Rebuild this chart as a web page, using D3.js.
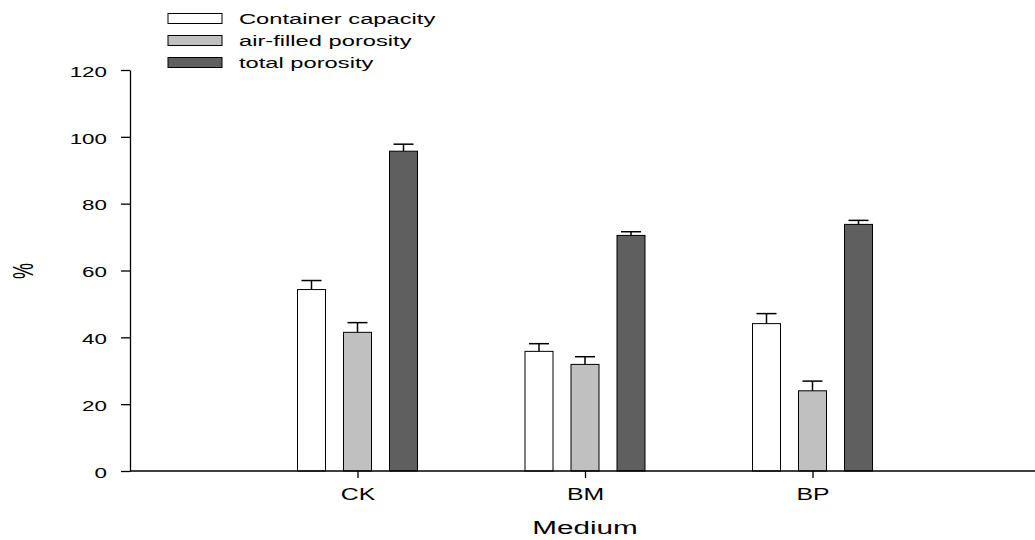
<!DOCTYPE html>
<html><head><meta charset="utf-8">
<script src="https://cdn.jsdelivr.net/npm/d3@7"></script>
<style>body{margin:0;background:#fff}svg{display:block;font-family:"Liberation Sans",Arial,sans-serif}</style>
</head><body>
<script>
const categories = ["CK", "BM", "BP"];
const seriesNames = ["Container capacity", "air-filled porosity", "total porosity"];
const seriesColors = ["#ffffff", "#c0c0c0", "#5f5f5f"];
const containerCapacity = [54.3, 35.8, 44.1];
const containerCapacityErr = [2.7, 2.3, 3.0];
const airFilled = [41.5, 31.9, 24.0];
const airFilledErr = [2.9, 2.3, 2.9];
const totalPorosity = [95.7, 70.5, 73.8];
const totalPorosityErr = [2.1, 1.1, 1.2];
const yTicks = [0, 20, 40, 60, 80, 100, 120];

const values = [containerCapacity, airFilled, totalPorosity];
const errs = [containerCapacityErr, airFilledErr, totalPorosityErr];

const W = 1035, H = 540;
const SX = 1.6; // horizontal stretch of text in the reference
const svg = d3.select("body").append("svg").attr("width", W).attr("height", H);

const x0 = d3.scalePoint().domain(categories).range([130, 1040]).padding(1);
const y = d3.scaleLinear().domain([0, 120]).range([471, 70]);
const x1 = d3.scalePoint().domain(d3.range(3)).range([-46, 46]);
const bw = 28;

const data = [];
categories.forEach((c, i) => {
  for (let s = 0; s < 3; s++) data.push({c, s, v: values[s][i], e: errs[s][i]});
});

const g = svg.append("g");
g.selectAll("line.stem").data(data).join("line")
  .attr("x1", d => x0(d.c) + x1(d.s)).attr("x2", d => x0(d.c) + x1(d.s))
  .attr("y1", d => y(d.v)).attr("y2", d => y(d.v + d.e))
  .attr("stroke", "#000").attr("stroke-width", 1.5);
g.selectAll("line.cap").data(data).join("line")
  .attr("x1", d => x0(d.c) + x1(d.s) - 10).attr("x2", d => x0(d.c) + x1(d.s) + 10)
  .attr("y1", d => y(d.v + d.e)).attr("y2", d => y(d.v + d.e))
  .attr("stroke", "#000").attr("stroke-width", 1.5);
g.selectAll("rect.bar").data(data).join("rect")
  .attr("x", d => x0(d.c) + x1(d.s) - bw / 2)
  .attr("y", d => y(d.v))
  .attr("width", bw)
  .attr("height", d => y(0) - y(d.v))
  .attr("fill", d => seriesColors[d.s])
  .attr("stroke", "#000").attr("stroke-width", 1);

// y axis
const yAxis = d3.axisLeft(y).tickValues(yTicks).tickSize(9).tickPadding(5).tickSizeOuter(0);
const ya = svg.append("g").attr("transform", "translate(130,0)").call(yAxis);
ya.select(".domain").attr("stroke", "#000").attr("stroke-width", 1.3);
ya.selectAll(".tick line").attr("stroke", "#000").attr("stroke-width", 1.3);
ya.selectAll(".tick text")
  .attr("x", 0).attr("dy", "0.45em")
  .attr("transform", `translate(-23,0) scale(${SX},1)`)
  .attr("font-size", 14).attr("fill", "#000")
  .attr("font-family", "Liberation Sans, Arial, sans-serif");

// x axis
const xAxis = d3.axisBottom(x0).tickSize(7).tickPadding(10).tickSizeOuter(0);
const xa = svg.append("g").attr("transform", "translate(0,471)").call(xAxis);
xa.select(".domain").attr("d", "M130,0H1035").attr("stroke", "#000").attr("stroke-width", 1.3);
xa.selectAll(".tick line").attr("stroke", "#000").attr("stroke-width", 1.3);
xa.selectAll(".tick text")
  .attr("y", 0).attr("dy", 0)
  .attr("transform", `translate(0,29) scale(${SX * 0.97},1)`)
  .attr("font-size", 16).attr("fill", "#000")
  .attr("font-family", "Liberation Sans, Arial, sans-serif");

// axis titles
svg.append("text").attr("transform", `translate(585,534) scale(1.65,1)`)
  .attr("text-anchor", "middle").attr("font-size", 18).text("Medium");
svg.append("text").attr("transform", `translate(33,271) scale(${SX},1) rotate(-90)`)
  .attr("text-anchor", "middle").attr("font-size", 18).text("%");

// legend
const leg = svg.append("g");
seriesNames.forEach((n, i) => {
  const yy = 13.5 + i * 22;
  leg.append("rect").attr("x", 168).attr("y", yy).attr("width", 54).attr("height", 10)
    .attr("fill", seriesColors[i]).attr("stroke", "#000").attr("stroke-width", 1);
  leg.append("text").attr("transform", `translate(239,${yy + 10.5}) scale(1.58,1)`)
    .attr("font-size", 15).text(n);
});
</script>
</body></html>
